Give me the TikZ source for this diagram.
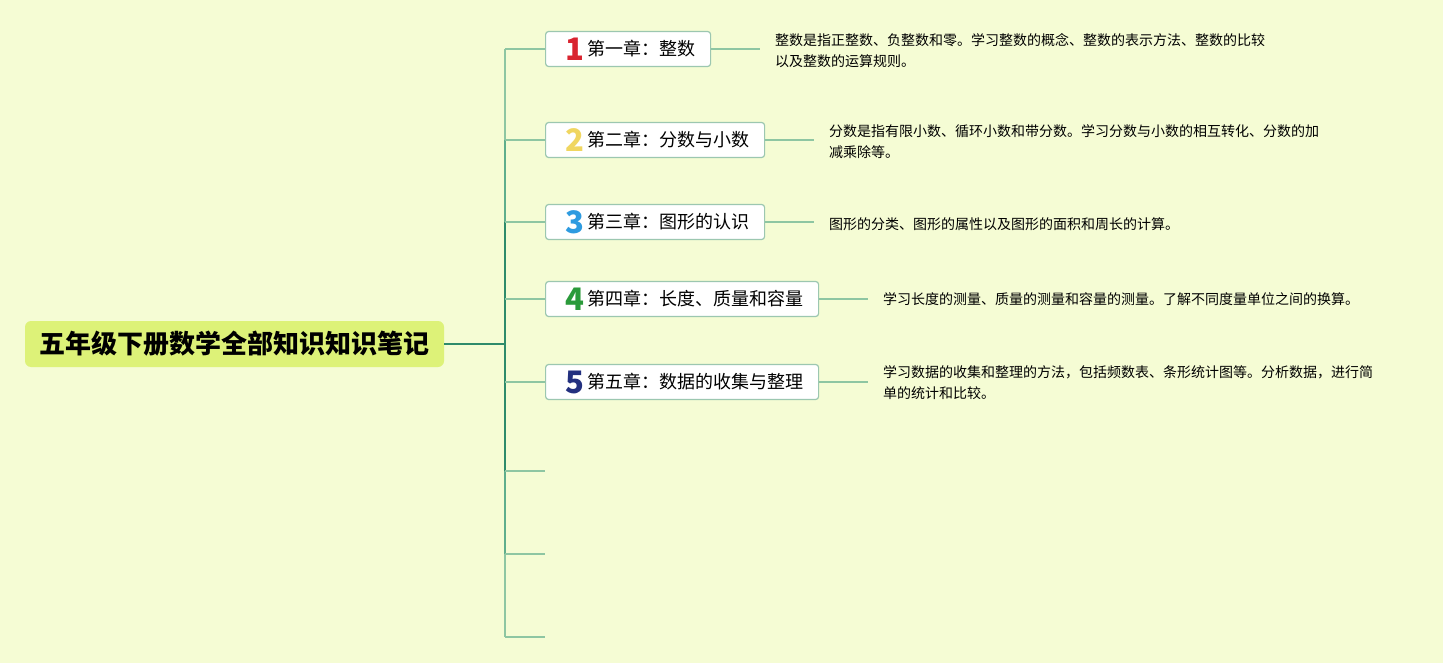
\documentclass[tikz,border=0pt]{standalone}
\usepackage{fontspec}
\setmainfont{Noto Sans CJK SC}
\usepackage{xcolor}
\usetikzlibrary{positioning}

\definecolor{bgpaper}{RGB}{245,252,212}
\definecolor{rootfill}{RGB}{221,242,120}
\definecolor{boxline}{RGB}{156,199,176}
\definecolor{branchline}{RGB}{142,198,162}
\definecolor{trunkmid}{RGB}{95,174,140}
\definecolor{trunkdark}{RGB}{46,139,107}
\definecolor{numred}{RGB}{217,36,47}
\definecolor{numyellow}{RGB}{240,214,96}
\definecolor{numblue}{RGB}{46,155,224}
\definecolor{numgreen}{RGB}{42,154,58}
\definecolor{numnavy}{RGB}{35,48,127}

\newcommand{\chnum}[2]{\hspace*{5pt}\makebox[22pt][l]{\raisebox{-5pt}{\fontsize{31}{31}\selectfont\bfseries\color{#1}#2}}}

\begin{document}
\begin{tikzpicture}[
    x=1pt, y=-1pt,
    root/.style={rectangle, rounded corners=6pt, fill=rootfill, minimum width=419pt, minimum height=46pt, inner sep=0pt, font=\fontsize{26}{30}\selectfont\bfseries},
    chapter/.style={rectangle, draw=boxline, line width=1.2pt, rounded corners=3pt, fill=white, minimum height=35pt, inner xsep=15pt, inner ysep=0pt, anchor=west, font=\fontsize{18}{22}\selectfont},
    note/.style={anchor=west, align=left, inner sep=0pt, font=\fontsize{14}{21}\selectfont},
    branch/.style={draw=branchline, line width=1.6pt}
]
\useasboundingbox (0,0) rectangle (1443,663);
\fill[bgpaper] (0,0) rectangle (1443,663);

% root and trunk
\node[root] (root) at (234.5,344) {五年级下册数学全部知识知识笔记};
\coordinate (hub) at (505,344);
\coordinate (t1) at (505,49);
\coordinate (t2) at (505,140);
\coordinate (t3) at (505,222);
\coordinate (t4) at (505,299);
\coordinate (t5) at (505,382);
\coordinate (t6) at (505,471);
\coordinate (t7) at (505,554);
\coordinate (t8) at (505,637);

% chapters
\node[chapter] (ch1) at (545,49) {\chnum{numred}{1}第一章：整数};
\node[chapter] (ch2) at (545,140) {\chnum{numyellow}{2}第二章：分数与小数};
\node[chapter] (ch3) at (545,222) {\chnum{numblue}{3}第三章：图形的认识};
\node[chapter] (ch4) at (545,299) {\chnum{numgreen}{4}第四章：长度、质量和容量};
\node[chapter] (ch5) at (545,382) {\chnum{numnavy}{5}第五章：数据的收集与整理};
\coordinate (e6) at (545,471);
\coordinate (e7) at (545,554);
\coordinate (e8) at (545,637);

% notes
\node[note] (n1) at (775,51) {整数是指正整数、负整数和零。学习整数的概念、整数的表示方法、整数的比较\\以及整数的运算规则。};
\node[note] (n2) at (829,141.5) {分数是指有限小数、循环小数和带分数。学习分数与小数的相互转化、分数的加\\减乘除等。};
\node[note] (n3) at (829,224) {图形的分类、图形的属性以及图形的面积和周长的计算。};
\node[note] (n4) at (883,299) {学习长度的测量、质量的测量和容量的测量。了解不同度量单位之间的换算。};
\node[note] (n5) at (883,382.5) {学习数据的收集和整理的方法，包括频数表、条形统计图等。分析数据，进行简\\单的统计和比较。};

% trunk lines
\draw[branch] (t1) -- (t2);
\draw[branch, draw=trunkmid] (t2) -- (t3);
\draw[branch, draw=trunkdark] (t3) -- (t6);
\draw[branch, draw=trunkmid] (t6) -- (t7);
\draw[branch] (t7) -- (t8);
\draw[branch, draw=trunkdark] (root.east) -- (hub);

% branches
\foreach \i in {1,...,5} {
  \draw[branch] (t\i) -- (t\i -| ch\i.west);
  \draw[branch, shorten >=15pt] (ch\i.east) -- (ch\i.east -| n\i.west);
}
\foreach \i in {6,7,8} {
  \draw[branch] (t\i) -- (e\i);
}

\end{tikzpicture}
\end{document}
